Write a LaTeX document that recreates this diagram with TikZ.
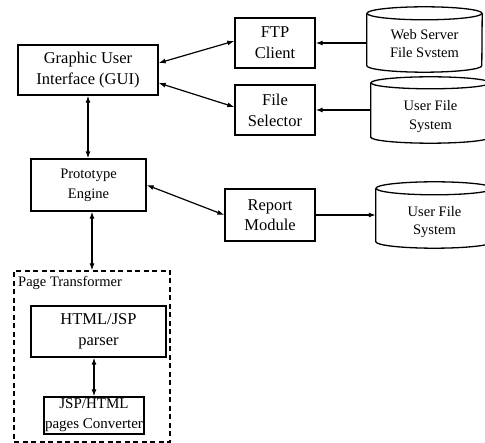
\documentclass[tikz,border=0pt]{standalone}
\usepackage{fontspec}
\setmainfont{Liberation Serif}
\usetikzlibrary{arrows.meta}
\newcommand\drawcyl[3]{% name, x radius, y radius
  \draw[line width=1.3pt] (#1.north west) -- (#1.south west)
    arc[start angle=180, end angle=360, x radius=#2, y radius=#3] -- (#1.north east);
  \draw[line width=1.3pt] (#1.north) ellipse [x radius=#2, y radius=#3];
}
\begin{document}
\begin{tikzpicture}[x=1pt,y=-1pt,
  box/.style={draw, line width=1.3pt, inner sep=0pt, align=center},
  big/.style={font=\fontsize{16.5}{21}\selectfont},
  small/.style={font=\fontsize{14.5}{19}\selectfont},
  body/.style={inner sep=0pt},
  tip/.tip={Latex[length=7pt,width=5pt]},
  arr/.style={line width=1.2pt, -tip},
  darr/.style={line width=1.2pt, tip-tip}
]
\useasboundingbox (0,0) rectangle (485,443);

% boxes
\node[box, big, minimum width=140, minimum height=50] (gui) at (88,70) {Graphic User\\Interface (GUI)};
\node[box, big, minimum width=80, minimum height=50] (ftp) at (275,43) {FTP\\Client};
\node[box, big, minimum width=80, minimum height=50] (fs) at (275,110) {File\\Selector};
\node[box, small, font=\fontsize{14.5}{20}\selectfont, minimum width=115, minimum height=52] (proto) at (88.5,185) {Prototype\\Engine};
\node[box, big, font=\fontsize{16.5}{20}\selectfont, minimum width=90, minimum height=52] (report) at (270,215) {Report\\Module};

% page transformer
\node[draw, line width=1.3pt, dash pattern=on 5pt off 3.5pt, minimum width=156, minimum height=171, inner sep=0pt] (pt) at (92,356.5) {};
\node[small, anchor=west, inner sep=0pt] (ptl) at (18,283) {Page Transformer};
\node[box, big, font=\fontsize{16.5}{21.5}\selectfont, minimum width=135, minimum height=51] (parser) at (98.5,331.5) {HTML/JSP\\parser};
\node[box, font=\fontsize{15}{20}\selectfont, minimum width=100, minimum height=37] (conv) at (94,415.5) {JSP/HTML\\pages Converter};

% cylinders
\node[body, minimum width=115, minimum height=52,
  label={[font=\fontsize{14.5}{18}\selectfont, align=center, yshift=-4.5pt]center:{Web Server\\File Svstem}}] (ws) at (424.5,39.5) {};
\drawcyl{ws}{57.5pt}{6.5pt}
\node[body, minimum width=119, minimum height=54,
  label={[font=\fontsize{14.5}{19}\selectfont, align=center, yshift=-7pt]center:{User File\\System}}] (ufs1) at (430.5,110) {};
\drawcyl{ufs1}{59.5pt}{6pt}
\node[body, minimum width=117, minimum height=53,
  label={[font=\fontsize{14.5}{18}\selectfont, align=center, yshift=-7pt]center:{User File\\System}}] (ufs2) at (434.5,215) {};
\drawcyl{ufs2}{58.5pt}{6.5pt}

% connectors
\draw[darr] ([yshift=7pt]gui.east) -- ([yshift=2pt]ftp.west);
\draw[darr] ([yshift=-13pt]gui.east) -- ([yshift=3pt]fs.west);
\draw[arr] (ws.west |- ftp.east) -- (ftp.east);
\draw[arr] (ufs1.west |- fs.east) -- (fs.east);
\draw[darr] (gui.south) -- (gui.south |- proto.north);
\draw[darr] (proto.east) -- (report.west);
\draw[arr] (report.east) -- (report.east -| ufs2.west);
\draw[darr] (proto.south -| pt.north) -- (pt.north);
\draw[darr] (parser.south -| conv.north) -- (conv.north);
\end{tikzpicture}
\end{document}
